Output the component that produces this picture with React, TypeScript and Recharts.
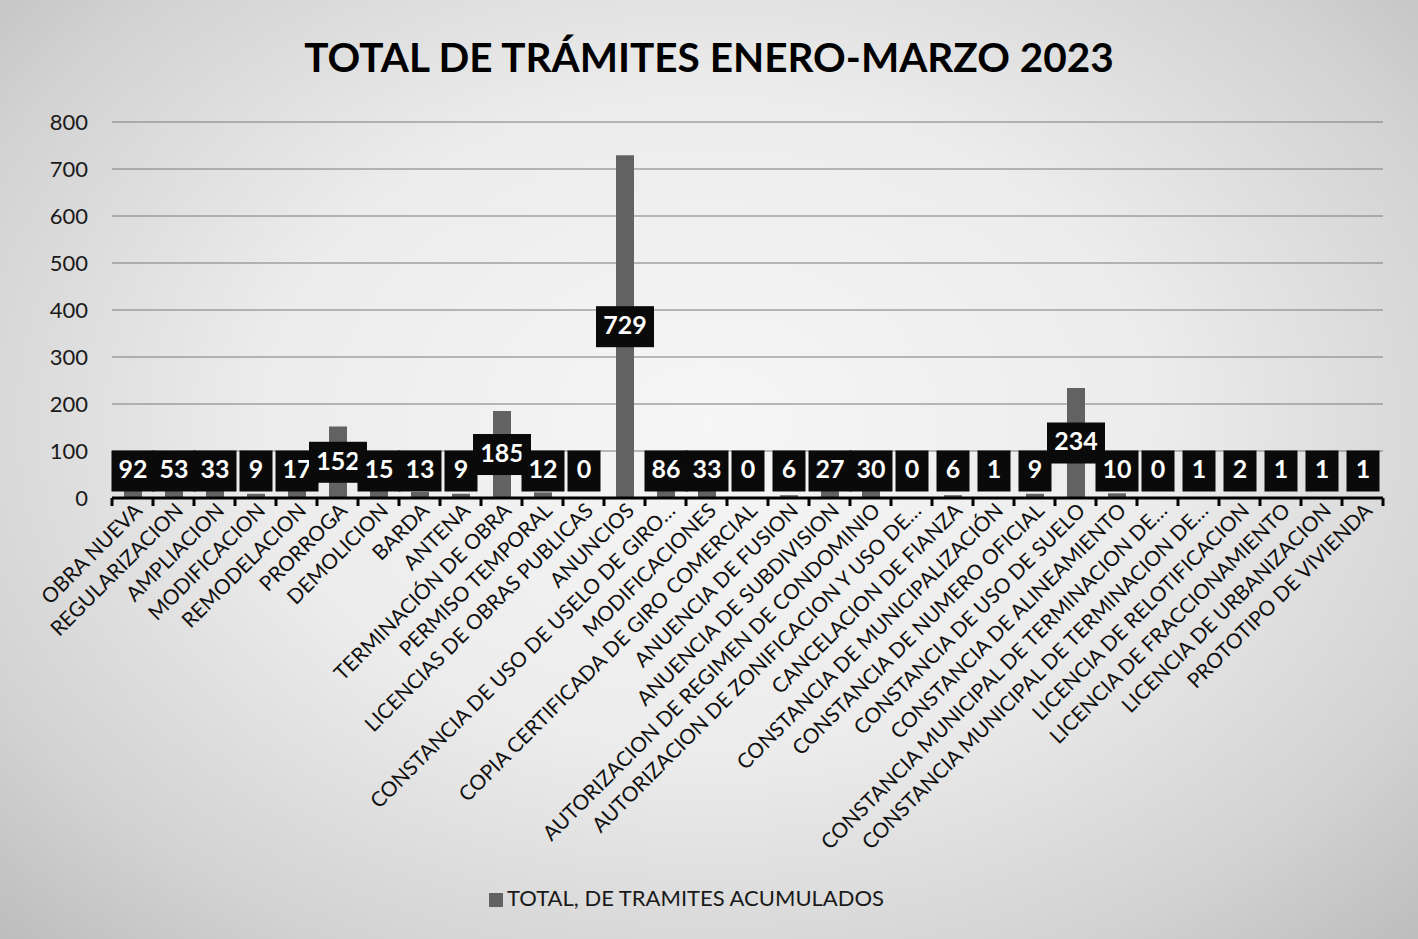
import React from 'react';
import {
  BarChart,
  Bar,
  XAxis,
  YAxis,
  CartesianGrid,
  Legend,
  LabelList,
} from 'recharts';

const categories = [
  'OBRA NUEVA',
  'REGULARIZACION',
  'AMPLIACION',
  'MODIFICACION',
  'REMODELACION',
  'PRORROGA',
  'DEMOLICION',
  'BARDA',
  'ANTENA',
  'TERMINACIÓN DE OBRA',
  'PERMISO TEMPORAL',
  'LICENCIAS DE OBRAS PUBLICAS',
  'ANUNCIOS',
  'CONSTANCIA DE USO DE USELO DE GIRO…',
  'MODIFICACIONES',
  'COPIA CERTIFICADA DE GIRO COMERCIAL',
  'ANUENCIA DE FUSION',
  'ANUENCIA DE SUBDIVISION',
  'AUTORIZACION DE REGIMEN DE CONDOMINIO',
  'AUTORIZACION DE ZONIFICACION Y USO DE…',
  'CANCELACION DE FIANZA',
  'CONSTANCIA DE MUNICIPALIZACIÓN',
  'CONSTANCIA DE NUMERO OFICIAL',
  'CONSTANCIA DE USO DE SUELO',
  'CONSTANCIA DE ALINEAMIENTO',
  'CONSTANCIA MUNICIPAL DE TERMINACION DE…',
  'CONSTANCIA MUNICIPAL DE TERMINACION DE…',
  'LICENCIA DE RELOTIFICACION',
  'LICENCIA DE FRACCIONAMIENTO',
  'LICENCIA DE URBANIZACION',
  'PROTOTIPO DE VIVIENDA',
];

const totals = [
  92, 53, 33, 9, 17, 152, 15, 13, 9, 185, 12, 0, 729, 86, 33, 0, 6, 27, 30, 0,
  6, 1, 9, 234, 10, 0, 1, 2, 1, 1, 1,
];

const yTicks = [0, 100, 200, 300, 400, 500, 600, 700, 800];

const SERIES_NAME = 'TOTAL, DE TRAMITES ACUMULADOS';

const W = 1418;
const H = 939;
const MARGIN = { top: 122, right: 35, left: 0, bottom: 28 };
const Y_AXIS_W = 112;
const BAND = (W - MARGIN.left - MARGIN.right - Y_AXIS_W) / categories.length;
const FONT = 'Lato, "Open Sans", sans-serif';

const data = categories.map((name, i) => ({ name, total: totals[i] }));

// etiquetas de categoría giradas + marcas entre categorías (estilo Excel)
const CategoryTick = (props: any) => {
  const { x, y, payload, index } = props;
  const last = index === categories.length - 1;
  return (
    <g>
      <line x1={x - BAND / 2} y1={y} x2={x - BAND / 2} y2={y + 8} stroke="#000" strokeWidth={3} />
      {last && (
        <line x1={x + BAND / 2} y1={y} x2={x + BAND / 2} y2={y + 8} stroke="#000" strokeWidth={3} />
      )}
      <text
        transform={`translate(${x + 11},${y + 14}) rotate(-45)`}
        textAnchor="end"
        fontSize={20.8}
        fontFamily={FONT}
        fill="#111"
      >
        {payload.value}
      </text>
    </g>
  );
};

// etiqueta de dato: caja negra con número blanco, al centro de la barra
const ValueBox = (props: any) => {
  const { x, y, width, height, value } = props;
  const digits = String(value).length;
  const bw = digits === 1 ? 33 : digits === 2 ? 43 : 58;
  const bh = 41;
  const base = y + height;
  const cy = Math.min(y + height / 2, base - 27);
  const cx = x + width / 2;
  return (
    <g>
      <rect x={cx - bw / 2} y={cy - bh / 2} width={bw} height={bh} fill="#0a0a0a" />
      <text
        x={cx}
        y={cy + 1}
        textAnchor="middle"
        dominantBaseline="middle"
        fontSize={25}
        fontWeight={700}
        fontFamily={FONT}
        fill="#fff"
      >
        {value}
      </text>
    </g>
  );
};

export default function App() {
  return (
    <div
      style={{
        position: 'absolute',
        left: 0,
        top: 0,
        width: W,
        height: H,
        background:
          'radial-gradient(ellipse at 50% 45%, #f6f6f6 0%, #ececec 45%, #d2d2d2 80%, #bdbdbd 100%)',
        fontFamily: FONT,
      }}
    >
      <div
        style={{
          position: 'absolute',
          top: 31,
          left: 0,
          width: W,
          textAlign: 'center',
          fontSize: 40.5,
          fontWeight: 700,
          color: '#000',
          lineHeight: '52px',
        }}
      >
        TOTAL DE TRÁMITES ENERO-MARZO 2023
      </div>
      <BarChart width={W} height={H} data={data} margin={MARGIN} barSize={18}>
        <CartesianGrid vertical={false} stroke="#7a7a7a" strokeWidth={1} />
        <YAxis
          width={Y_AXIS_W}
          domain={[0, 800]}
          ticks={yTicks}
          axisLine={false}
          tickLine={false}
          tickSize={0}
          tickMargin={24}
          tick={{ fontSize: 22, fill: '#1a1a1a', fontFamily: FONT }}
        />
        <XAxis
          dataKey="name"
          interval={0}
          height={386}
          axisLine={{ stroke: '#000', strokeWidth: 3 }}
          tickLine={false}
          tickSize={0}
          tickMargin={0}
          tick={<CategoryTick />}
        />
        <Legend
          verticalAlign="bottom"
          iconType="square"
          iconSize={14}
          wrapperStyle={{ fontSize: 22, fontFamily: FONT }}
          formatter={(v: string) => <span style={{ color: '#1a1a1a' }}>{v}</span>}
        />
        <Bar
          dataKey="total"
          name={SERIES_NAME}
          fill="#626262"
          minPointSize={1}
          isAnimationActive={false}
        >
          <LabelList dataKey="total" content={<ValueBox />} />
        </Bar>
      </BarChart>
    </div>
  );
}
